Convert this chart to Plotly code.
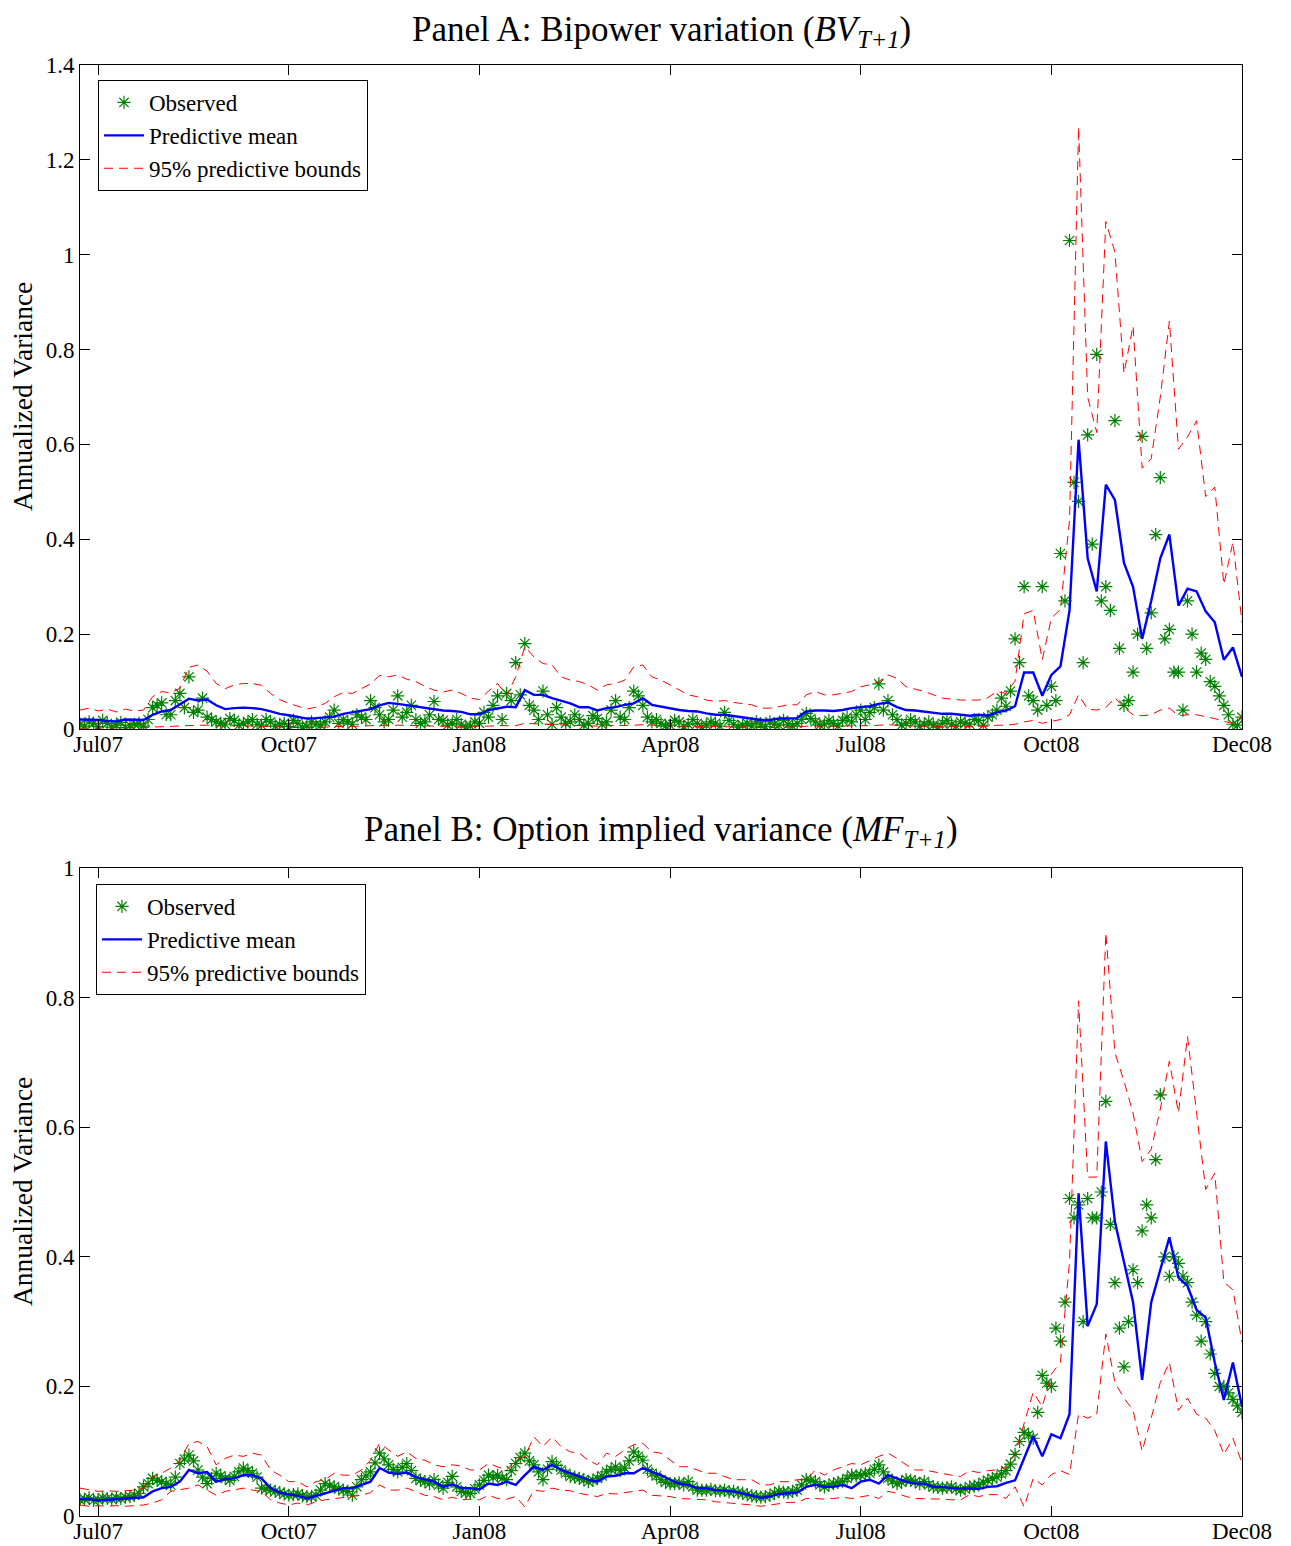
import numpy as np
import plotly.graph_objects as go
from plotly.subplots import make_subplots

# ---------------- data (one value every 3 trading days, Jul07 .. Dec08) ----------------
tick_idx = [6, 69, 132, 195, 258, 321, 384]
tick_lab = ["Jul07", "Oct07", "Jan08", "Apr08", "Jul08", "Oct08", "Dec08"]
step_days = 3

bv_mean = [0.020, 0.020, 0.019, 0.017, 0.016, 0.020, 0.019, 0.019, 0.030, 0.037,
           0.040, 0.052, 0.064, 0.060, 0.062, 0.050, 0.042, 0.044, 0.045, 0.044,
           0.042, 0.037, 0.032, 0.029, 0.026, 0.022, 0.023, 0.024, 0.026, 0.032,
           0.035, 0.038, 0.042, 0.050, 0.055, 0.053, 0.050, 0.047, 0.044, 0.041,
           0.039, 0.038, 0.036, 0.031, 0.031, 0.040, 0.044, 0.047, 0.046, 0.082,
           0.072, 0.072, 0.065, 0.060, 0.054, 0.046, 0.046, 0.039, 0.044, 0.046,
           0.051, 0.054, 0.065, 0.051, 0.047, 0.044, 0.040, 0.038, 0.037, 0.033,
           0.030, 0.030, 0.027, 0.025, 0.022, 0.019, 0.019, 0.022, 0.022, 0.023,
           0.037, 0.039, 0.039, 0.038, 0.040, 0.044, 0.046, 0.048, 0.053, 0.056,
           0.046, 0.040, 0.039, 0.037, 0.034, 0.032, 0.032, 0.030, 0.028, 0.030,
           0.028, 0.035, 0.039, 0.048, 0.119, 0.119, 0.070, 0.114, 0.132, 0.250,
           0.610, 0.360, 0.290, 0.515, 0.483, 0.350, 0.300, 0.190, 0.270, 0.360,
           0.410, 0.260, 0.296, 0.290, 0.248, 0.225, 0.146, 0.172, 0.110]

bv_up = [0.040, 0.044, 0.038, 0.042, 0.036, 0.042, 0.038, 0.040, 0.068, 0.079,
         0.076, 0.086, 0.130, 0.135, 0.122, 0.096, 0.085, 0.093, 0.096, 0.096,
         0.092, 0.075, 0.062, 0.054, 0.048, 0.042, 0.046, 0.054, 0.068, 0.077,
         0.075, 0.085, 0.095, 0.113, 0.110, 0.114, 0.105, 0.100, 0.090, 0.082,
         0.078, 0.082, 0.075, 0.065, 0.062, 0.080, 0.096, 0.070, 0.110, 0.174,
         0.152, 0.138, 0.135, 0.110, 0.103, 0.100, 0.093, 0.082, 0.093, 0.096,
         0.103, 0.131, 0.135, 0.110, 0.103, 0.093, 0.082, 0.072, 0.068, 0.061,
         0.058, 0.060, 0.056, 0.054, 0.051, 0.044, 0.044, 0.047, 0.051, 0.051,
         0.072, 0.079, 0.072, 0.072, 0.075, 0.079, 0.089, 0.093, 0.100, 0.114,
         0.107, 0.089, 0.084, 0.079, 0.072, 0.065, 0.063, 0.061, 0.061, 0.061,
         0.066, 0.079, 0.075, 0.101, 0.243, 0.250, 0.146, 0.234, 0.252, 0.440,
         1.270, 0.700, 0.625, 1.070, 1.006, 0.750, 0.850, 0.550, 0.570, 0.700,
         0.860, 0.590, 0.616, 0.650, 0.490, 0.510, 0.305, 0.394, 0.225]

bv_lo = [0.002, 0.002, 0.003, 0.002, 0.002, 0.002, 0.002, 0.003, 0.004, 0.005,
         0.005, 0.006, 0.008, 0.008, 0.008, 0.007, 0.006, 0.007, 0.007, 0.006,
         0.006, 0.005, 0.004, 0.004, 0.003, 0.003, 0.003, 0.004, 0.005, 0.005,
         0.006, 0.006, 0.007, 0.008, 0.008, 0.008, 0.008, 0.007, 0.007, 0.006,
         0.006, 0.006, 0.005, 0.005, 0.005, 0.006, 0.007, 0.007, 0.007, 0.012,
         0.011, 0.010, 0.009, 0.008, 0.008, 0.007, 0.007, 0.006, 0.007, 0.007,
         0.008, 0.008, 0.009, 0.008, 0.007, 0.007, 0.006, 0.006, 0.005, 0.005,
         0.005, 0.005, 0.004, 0.004, 0.004, 0.003, 0.003, 0.004, 0.004, 0.004,
         0.006, 0.006, 0.006, 0.006, 0.006, 0.007, 0.007, 0.007, 0.008, 0.009,
         0.008, 0.007, 0.007, 0.006, 0.006, 0.005, 0.005, 0.005, 0.005, 0.005,
         0.005, 0.008, 0.008, 0.010, 0.015, 0.018, 0.012, 0.016, 0.020, 0.030,
         0.072, 0.042, 0.040, 0.045, 0.066, 0.045, 0.030, 0.028, 0.030, 0.040,
         0.044, 0.028, 0.030, 0.030, 0.026, 0.022, 0.016, 0.012, 0.026]

# observed values on the 3-day grid
bv_obs = [0.010, 0.015, 0.005, 0.012, 0.008, 0.003, 0.010, 0.006, 0.045, 0.055,
          0.030, 0.075, 0.110, 0.040, 0.025, 0.015, 0.010, 0.018, 0.012, 0.020,
          0.008, 0.015, 0.010, 0.005, 0.012, 0.006, 0.010, 0.015, 0.040, 0.020,
          0.010, 0.025, 0.060, 0.030, 0.020, 0.070, 0.035, 0.020, 0.015, 0.058,
          0.018, 0.012, 0.010, 0.006, 0.012, 0.025, 0.070, 0.075, 0.140, 0.180,
          0.040, 0.080, 0.010, 0.025, 0.015, 0.020, 0.012, 0.022, 0.015, 0.060,
          0.020, 0.080, 0.050, 0.015, 0.012, 0.008, 0.015, 0.010, 0.012, 0.008,
          0.012, 0.035, 0.010, 0.008, 0.006, 0.010, 0.015, 0.008, 0.010, 0.012,
          0.033, 0.015, 0.010, 0.012, 0.018, 0.015, 0.040, 0.035, 0.095, 0.060,
          0.020, 0.012, 0.015, 0.010, 0.008, 0.012, 0.010, 0.015, 0.010, 0.018,
          0.025, 0.040, 0.048, 0.190, 0.300, 0.060, 0.300, 0.090, 0.370, 1.030,
          0.480, 0.620, 0.790, 0.300, 0.650, 0.050, 0.120, 0.617, 0.245, 0.530,
          0.210, 0.120, 0.270, 0.120, 0.147, 0.090, 0.050, 0.010, 0.025]
# observed values half-way between grid points (x = 3*j + 1.5)
bv_obs_mid = [0.006, 0.012, 0.018, 0.004, 0.014, 0.008, 0.012, 0.020, 0.050, 0.030,
              0.060, 0.045, 0.035, 0.065, 0.020, 0.012, 0.022, 0.008, 0.015, 0.010,
              0.020, 0.006, 0.012, 0.018, 0.004, 0.015, 0.008, 0.025, 0.012, 0.015,
              0.030, 0.020, 0.045, 0.015, 0.040, 0.025, 0.050, 0.012, 0.030, 0.020,
              0.008, 0.020, 0.004, 0.015, 0.035, 0.050, 0.020, 0.060, 0.072, 0.050,
              0.020, 0.030, 0.045, 0.012, 0.030, 0.008, 0.028, 0.010, 0.040, 0.025,
              0.045, 0.070, 0.025, 0.020, 0.006, 0.018, 0.005, 0.020, 0.004, 0.015,
              0.006, 0.018, 0.004, 0.012, 0.015, 0.005, 0.010, 0.018, 0.006, 0.020,
              0.022, 0.008, 0.018, 0.006, 0.025, 0.030, 0.020, 0.045, 0.040, 0.030,
              0.008, 0.020, 0.006, 0.015, 0.004, 0.018, 0.006, 0.012, 0.020, 0.008,
              0.030, 0.065, 0.080, 0.140, 0.070, 0.040, 0.050, 0.060, 0.270, 0.520,
              0.140, 0.390, 0.270, 0.250, 0.170, 0.060, 0.200, 0.170, 0.410, 0.190,
              0.120, 0.040, 0.200, 0.160, 0.100, 0.070, 0.030, 0.008]

mf_mean = [0.026, 0.026, 0.024, 0.025, 0.026, 0.026, 0.027, 0.029, 0.038, 0.043,
           0.045, 0.053, 0.071, 0.066, 0.068, 0.053, 0.057, 0.058, 0.063, 0.063,
           0.058, 0.043, 0.036, 0.034, 0.031, 0.027, 0.031, 0.036, 0.039, 0.043,
           0.043, 0.048, 0.053, 0.074, 0.067, 0.065, 0.067, 0.060, 0.057, 0.053,
           0.045, 0.049, 0.043, 0.043, 0.041, 0.050, 0.048, 0.053, 0.048, 0.063,
           0.076, 0.071, 0.079, 0.071, 0.066, 0.061, 0.056, 0.053, 0.061, 0.062,
           0.066, 0.066, 0.074, 0.068, 0.063, 0.056, 0.050, 0.048, 0.043, 0.043,
           0.040, 0.039, 0.038, 0.035, 0.032, 0.028, 0.030, 0.034, 0.035, 0.036,
           0.045, 0.048, 0.045, 0.045, 0.048, 0.043, 0.053, 0.056, 0.050, 0.063,
           0.058, 0.053, 0.050, 0.050, 0.045, 0.045, 0.043, 0.043, 0.042, 0.042,
           0.045, 0.046, 0.051, 0.055, 0.089, 0.123, 0.092, 0.126, 0.120, 0.157,
           0.498, 0.293, 0.327, 0.578, 0.454, 0.392, 0.330, 0.210, 0.330, 0.380,
           0.430, 0.368, 0.355, 0.318, 0.306, 0.237, 0.179, 0.237, 0.169]

mf_up = [0.043, 0.040, 0.038, 0.039, 0.038, 0.039, 0.040, 0.043, 0.061, 0.066,
         0.074, 0.086, 0.112, 0.115, 0.107, 0.079, 0.089, 0.094, 0.092, 0.097,
         0.094, 0.071, 0.063, 0.053, 0.053, 0.045, 0.053, 0.056, 0.066, 0.063,
         0.063, 0.071, 0.086, 0.112, 0.102, 0.092, 0.099, 0.089, 0.086, 0.079,
         0.076, 0.079, 0.077, 0.071, 0.071, 0.081, 0.076, 0.071, 0.086, 0.092,
         0.122, 0.107, 0.122, 0.107, 0.099, 0.097, 0.086, 0.079, 0.097, 0.092,
         0.102, 0.110, 0.112, 0.099, 0.097, 0.086, 0.076, 0.076, 0.071, 0.066,
         0.066, 0.061, 0.056, 0.056, 0.056, 0.048, 0.048, 0.053, 0.053, 0.056,
         0.056, 0.071, 0.063, 0.071, 0.076, 0.081, 0.079, 0.086, 0.092, 0.097,
         0.089, 0.079, 0.071, 0.071, 0.068, 0.066, 0.063, 0.061, 0.070, 0.067,
         0.070, 0.071, 0.076, 0.095, 0.144, 0.191, 0.169, 0.219, 0.237, 0.392,
         0.795, 0.523, 0.523, 0.900, 0.715, 0.671, 0.622, 0.547, 0.566, 0.628,
         0.702, 0.622, 0.740, 0.622, 0.504, 0.529, 0.361, 0.349, 0.268]

mf_lo = [0.017, 0.015, 0.016, 0.015, 0.016, 0.015, 0.016, 0.017, 0.020, 0.025,
         0.038, 0.040, 0.043, 0.048, 0.040, 0.032, 0.038, 0.040, 0.043, 0.040,
         0.038, 0.025, 0.020, 0.017, 0.020, 0.017, 0.022, 0.025, 0.027, 0.029,
         0.031, 0.032, 0.036, 0.048, 0.040, 0.040, 0.043, 0.038, 0.032, 0.030,
         0.025, 0.029, 0.025, 0.026, 0.025, 0.032, 0.027, 0.026, 0.030, 0.014,
         0.040, 0.038, 0.043, 0.040, 0.039, 0.035, 0.032, 0.030, 0.035, 0.034,
         0.036, 0.038, 0.040, 0.032, 0.031, 0.030, 0.027, 0.026, 0.025, 0.025,
         0.022, 0.021, 0.020, 0.019, 0.017, 0.015, 0.017, 0.020, 0.021, 0.021,
         0.027, 0.027, 0.026, 0.027, 0.029, 0.027, 0.030, 0.032, 0.027, 0.038,
         0.035, 0.030, 0.027, 0.027, 0.026, 0.026, 0.025, 0.025, 0.033, 0.030,
         0.033, 0.033, 0.027, 0.045, 0.014, 0.058, 0.048, 0.064, 0.070, 0.064,
         0.157, 0.151, 0.157, 0.281, 0.206, 0.182, 0.163, 0.100, 0.151, 0.206,
         0.237, 0.163, 0.182, 0.157, 0.151, 0.132, 0.095, 0.120, 0.082]

mf_obs = [0.025, 0.028, 0.025, 0.027, 0.028, 0.029, 0.032, 0.045, 0.058, 0.053,
          0.048, 0.081, 0.094, 0.071, 0.050, 0.066, 0.058, 0.061, 0.074, 0.066,
          0.043, 0.040, 0.036, 0.032, 0.034, 0.030, 0.032, 0.050, 0.045, 0.040,
          0.032, 0.056, 0.068, 0.097, 0.079, 0.068, 0.081, 0.058, 0.053, 0.056,
          0.043, 0.061, 0.038, 0.035, 0.048, 0.063, 0.063, 0.056, 0.081, 0.097,
          0.079, 0.056, 0.084, 0.071, 0.061, 0.058, 0.053, 0.058, 0.068, 0.076,
          0.074, 0.099, 0.086, 0.066, 0.056, 0.050, 0.051, 0.053, 0.040, 0.040,
          0.039, 0.040, 0.038, 0.035, 0.031, 0.029, 0.032, 0.038, 0.036, 0.040,
          0.056, 0.053, 0.045, 0.050, 0.053, 0.063, 0.063, 0.066, 0.079, 0.058,
          0.050, 0.056, 0.053, 0.053, 0.045, 0.043, 0.045, 0.040, 0.045, 0.048,
          0.055, 0.060, 0.070, 0.095, 0.129, 0.120, 0.217, 0.200, 0.270, 0.490,
          0.480, 0.490, 0.460, 0.640, 0.360, 0.230, 0.380, 0.440, 0.460, 0.650,
          0.370, 0.390, 0.360, 0.310, 0.300, 0.220, 0.200, 0.180, 0.160]
mf_obs_mid = [0.026, 0.024, 0.028, 0.026, 0.027, 0.030, 0.035, 0.050, 0.055, 0.050,
              0.060, 0.088, 0.085, 0.060, 0.058, 0.062, 0.055, 0.068, 0.070, 0.060,
              0.042, 0.038, 0.034, 0.033, 0.031, 0.030, 0.040, 0.047, 0.042, 0.038,
              0.045, 0.062, 0.082, 0.088, 0.072, 0.075, 0.070, 0.055, 0.050, 0.048,
              0.052, 0.045, 0.036, 0.042, 0.055, 0.060, 0.058, 0.070, 0.090, 0.085,
              0.068, 0.072, 0.078, 0.066, 0.060, 0.056, 0.055, 0.062, 0.072, 0.070,
              0.085, 0.092, 0.072, 0.062, 0.052, 0.050, 0.048, 0.045, 0.040, 0.041,
              0.039, 0.037, 0.036, 0.033, 0.030, 0.030, 0.035, 0.037, 0.038, 0.048,
              0.055, 0.048, 0.048, 0.052, 0.058, 0.062, 0.065, 0.072, 0.068, 0.054,
              0.052, 0.055, 0.050, 0.048, 0.044, 0.044, 0.042, 0.042, 0.046, 0.052,
              0.058, 0.065, 0.080, 0.115, 0.125, 0.160, 0.205, 0.290, 0.330, 0.460,
              0.300, 0.460, 0.500, 0.450, 0.290, 0.300, 0.360, 0.480, 0.550, 0.400,
              0.400, 0.370, 0.330, 0.270, 0.250, 0.200, 0.190, 0.170]

# ---------------- figure ----------------
W, H = 1291, 1546
OFF = 8  # the page body adds an 8px margin around the figure
FONT = "Liberation Serif, Times New Roman, serif"
GREEN = "#008000"


def px_x(px):
    return (px - OFF) / W


def px_y(py):
    return 1 - (py - OFF) / H


def grid_x(arr):
    return np.arange(len(arr)) * step_days


def mid_x(arr):
    return np.arange(len(arr)) * step_days + step_days / 2.0


fig = make_subplots(rows=2, cols=1)

panels = [
    (1, bv_obs, bv_obs_mid, bv_mean, bv_up, bv_lo, "legend"),
    (2, mf_obs, mf_obs_mid, mf_mean, mf_up, mf_lo, "legend2"),
]
star = dict(symbol="asterisk-open", size=11, color=GREEN, line=dict(color=GREEN, width=1.2))
dash = dict(color="#ff0000", width=1, dash="9px,6px")
for row, obs, obs_mid, mean, up, lo, leg in panels:
    ox = np.concatenate([grid_x(obs), mid_x(obs_mid)])
    oy = np.concatenate([obs, obs_mid])
    order = np.argsort(ox)
    fig.add_trace(go.Scatter(x=ox[order], y=oy[order], mode="markers", name="Observed",
                             marker=star, legend=leg), row=row, col=1)
    fig.add_trace(go.Scatter(x=grid_x(mean), y=mean, mode="lines", name="Predictive mean",
                             line=dict(color="#0000ff", width=2.4), legend=leg), row=row, col=1)
    fig.add_trace(go.Scatter(x=grid_x(up), y=up, mode="lines", name="95% predictive bounds",
                             line=dash, legend=leg), row=row, col=1)
    fig.add_trace(go.Scatter(x=grid_x(lo), y=lo, mode="lines", name="95% predictive bounds",
                             line=dash, showlegend=False, legend=leg), row=row, col=1)

xdom = [px_x(80), px_x(1242)]
ydomA = [px_y(729), px_y(65)]
ydomB = [px_y(1516), px_y(868)]

axis_common = dict(showline=True, linecolor="black", linewidth=1, mirror="ticks",
                   ticks="inside", ticklen=10, tickcolor="black", showgrid=False,
                   zeroline=False, automargin=False,
                   tickfont=dict(family=FONT, size=23, color="black"))

for ax in ("xaxis", "xaxis2"):
    fig.layout[ax].update(domain=xdom, range=[0, 384], tickmode="array",
                          tickvals=tick_idx, ticktext=tick_lab, ticklabelstandoff=-6,
                          **axis_common)
fig.layout.yaxis.update(domain=ydomA, range=[0, 1.4], dtick=0.2, tick0=0, **axis_common)
fig.layout.yaxis2.update(domain=ydomB, range=[0, 1.0], dtick=0.2, tick0=0, **axis_common)

leg_common = dict(xanchor="left", yanchor="top", bgcolor="white", bordercolor="black",
                  borderwidth=1, font=dict(family=FONT, size=23, color="black"),
                  itemwidth=40, tracegroupgap=0)
fig.update_layout(
    width=W, height=H, autosize=False,
    margin=dict(l=0, r=0, t=0, b=0, autoexpand=False),
    paper_bgcolor="white", plot_bgcolor="white",
    font=dict(family=FONT, color="black"),
    legend=dict(x=px_x(98), y=px_y(80), **leg_common),
    legend2=dict(x=px_x(96), y=px_y(884), **leg_common),
)

titles = [
    ("Panel A: Bipower variation (<i>BV</i><sub><i>T+1</i></sub>)", px_y(8)),
    ("Panel B: Option implied variance (<i>MF</i><sub><i>T+1</i></sub>)", px_y(808)),
]
for txt, yy in titles:
    fig.add_annotation(text=txt, x=px_x((80 + 1242) / 2), y=yy, xref="paper", yref="paper",
                       xanchor="center", yanchor="top", showarrow=False,
                       font=dict(family=FONT, size=35, color="black"))

for yc in ((65 + 729) / 2, (868 + 1516) / 2):
    fig.add_annotation(text="Annualized Variance", x=px_x(22), y=px_y(yc),
                       xref="paper", yref="paper", xanchor="center", yanchor="middle",
                       textangle=-90, showarrow=False,
                       font=dict(family=FONT, size=27.5, color="black"))

fig.write_html("out.html")
